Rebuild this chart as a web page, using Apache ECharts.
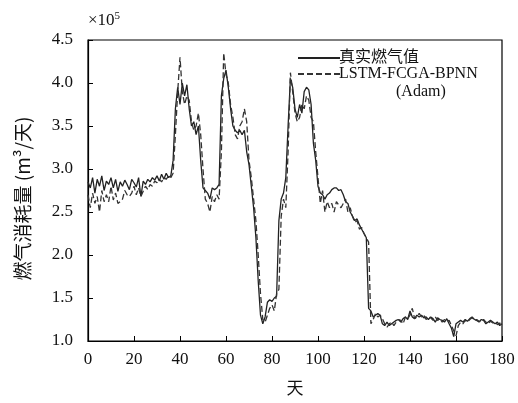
<!DOCTYPE html>
<html>
<head>
<meta charset="utf-8">
<script src="https://cdn.jsdelivr.net/npm/echarts@6/dist/echarts.min.js"></script>
<style>html,body{margin:0;padding:0;background:#fff}#c{width:518px;height:403px}</style>
</head>
<body>
<div id="c"></div>
<script>
var seriesNames = ['真实燃气值', 'LSTM-FCGA-BPNN (Adam)'];
var xTicks = [0, 20, 40, 60, 80, 100, 120, 140, 160, 180];
var yTicks = [1.0, 1.5, 2.0, 2.5, 3.0, 3.5, 4.0, 4.5];
// actual gas consumption (x10^5 m3/day), days 0..180
var actual = [
2.85,2.78,2.90,2.72,2.88,2.80,2.92,2.75,2.86,2.82,
2.90,2.78,2.88,2.74,2.85,2.80,2.87,2.82,2.76,2.88,
2.84,2.79,2.90,2.68,2.86,2.82,2.88,2.85,2.90,2.87,
2.92,2.86,2.94,2.88,2.95,2.90,2.92,3.10,3.70,3.95,
3.75,4.00,3.85,3.98,3.70,3.50,3.55,3.40,3.50,3.10,
2.78,2.75,2.72,2.65,2.78,2.76,2.78,2.82,3.85,4.05,
4.15,3.95,3.70,3.50,3.45,3.42,3.45,3.40,3.45,3.20,
3.05,2.80,2.55,2.20,1.70,1.30,1.20,1.28,1.45,1.48,
1.46,1.50,1.52,2.40,2.65,2.72,2.90,3.50,4.05,3.95,
3.70,3.60,3.75,3.65,3.90,3.95,3.92,3.75,3.30,3.10,
2.80,2.72,2.70,2.65,2.70,2.72,2.76,2.78,2.78,2.75,
2.76,2.70,2.62,2.60,2.50,2.45,2.40,2.42,2.35,2.30,
2.25,2.20,1.38,1.35,1.28,1.30,1.32,1.30,1.20,1.18,
1.22,1.18,1.20,1.22,1.24,1.25,1.22,1.26,1.28,1.25,
1.35,1.28,1.26,1.30,1.28,1.30,1.27,1.28,1.25,1.28,
1.26,1.22,1.27,1.25,1.24,1.22,1.26,1.20,1.15,1.05,
1.20,1.22,1.24,1.22,1.25,1.23,1.26,1.28,1.25,1.24,
1.22,1.25,1.24,1.20,1.22,1.24,1.22,1.20,1.22,1.18,
1.20];
// predicted values, days 0..180
var predicted = [
2.70,2.55,2.72,2.60,2.68,2.50,2.75,2.62,2.70,2.62,
2.80,2.64,2.72,2.60,2.62,2.65,2.75,2.70,2.68,2.72,
2.80,2.70,2.78,2.68,2.74,2.80,2.76,2.82,2.80,2.86,
2.84,2.88,2.85,2.90,2.88,2.92,2.90,2.95,3.40,3.90,
4.30,3.90,3.75,3.85,3.80,3.55,3.45,3.50,3.65,3.40,
3.00,2.65,2.60,2.50,2.68,2.62,2.70,2.65,3.20,4.35,
4.10,4.00,3.75,3.60,3.40,3.35,3.50,3.55,3.70,3.55,
3.10,2.90,2.65,2.40,2.00,1.55,1.25,1.22,1.30,1.38,
1.42,1.35,1.55,1.60,2.45,2.65,2.55,3.20,4.12,3.90,
3.65,3.55,3.60,3.75,3.70,3.85,3.80,3.60,3.55,3.20,
2.90,2.60,2.75,2.50,2.62,2.55,2.60,2.50,2.62,2.58,
2.55,2.60,2.65,2.50,2.55,2.45,2.38,2.40,2.30,2.32,
2.25,2.20,2.15,1.20,1.25,1.32,1.28,1.30,1.26,1.20,
1.16,1.20,1.22,1.18,1.22,1.25,1.24,1.20,1.28,1.26,
1.30,1.38,1.26,1.28,1.32,1.28,1.30,1.25,1.28,1.27,
1.24,1.28,1.24,1.26,1.22,1.25,1.23,1.24,1.18,1.12,
1.06,1.18,1.22,1.20,1.24,1.22,1.25,1.27,1.24,1.25,
1.23,1.22,1.25,1.22,1.20,1.23,1.21,1.22,1.19,1.21,
1.18];

function pairs(arr) { return arr.map(function (v, i) { return [i, v]; }); }
var serif = '"Liberation Serif", "Times New Roman", "Noto Sans CJK SC", serif';
var chart = echarts.init(document.getElementById('c'));
chart.setOption({
  animation: false,
  grid: { left: 88, right: 16, top: 40, bottom: 62, show: true, borderColor: '#000', borderWidth: 1.2, backgroundColor: 'transparent' },
  xAxis: {
    type: 'value', min: xTicks[0], max: xTicks[xTicks.length - 1], interval: 20,
    name: '天', nameLocation: 'middle', nameGap: 38,
    nameTextStyle: { fontFamily: '"Noto Sans CJK SC"', fontSize: 17, color: '#111' },
    axisLine: { show: true, lineStyle: { color: '#000', width: 1.2 } },
    axisTick: { show: true, inside: true, length: 5, lineStyle: { color: '#000' } },
    axisLabel: { fontFamily: serif, fontSize: 17, color: '#111', margin: 10 },
    splitLine: { show: false }
  },
  yAxis: {
    type: 'value', min: yTicks[0], max: yTicks[yTicks.length - 1], interval: 0.5,
    name: '燃气消耗量 (m³/天)', nameLocation: 'middle', nameGap: 56, nameRotate: 90,
    nameTextStyle: { fontFamily: '"Noto Sans CJK SC"', fontSize: 19, color: '#111', padding: [0, 0, 0, -16] },
    axisLine: { show: true, lineStyle: { color: '#000', width: 1.2 } },
    axisTick: { show: true, inside: true, length: 5, lineStyle: { color: '#000' } },
    axisLabel: { fontFamily: serif, fontSize: 17, color: '#111', margin: 15, formatter: function (v) { return v.toFixed(1); } },
    splitLine: { show: false }
  },
  legend: {
    orient: 'vertical', left: 292, top: 45, itemWidth: 42, itemGap: 0,
    data: seriesNames,
    itemStyle: { opacity: 0 },
    formatter: function (n) { return n === seriesNames[1] ? 'LSTM-FCGA-BPNN' : n; },
    textStyle: { fontFamily: serif, fontSize: 16, color: '#111', padding: [0, 0, 0, -6] }
  },
  graphic: [
    { type: 'text', left: 88, top: 11, style: { text: '×10{s|5}', rich: { s: { fontSize: 11, verticalAlign: 'top', padding: [0, 0, 8, 0], fontFamily: serif } }, fontFamily: serif, fontSize: 17, fill: '#111' } },
    { type: 'text', left: 396, top: 84, style: { text: '(Adam)', fontFamily: serif, fontSize: 16, fill: '#111' } }
  ],
  series: [
    { name: seriesNames[0], type: 'line', data: pairs(actual), symbol: 'none', lineStyle: { color: '#222', width: 1.3, type: 'solid' }, itemStyle: { color: '#222' } },
    { name: seriesNames[1], type: 'line', data: pairs(predicted), symbol: 'none', lineStyle: { color: '#333', width: 1.3, type: [6, 3] }, itemStyle: { color: '#333' } }
  ]
});
</script>
</body>
</html>
